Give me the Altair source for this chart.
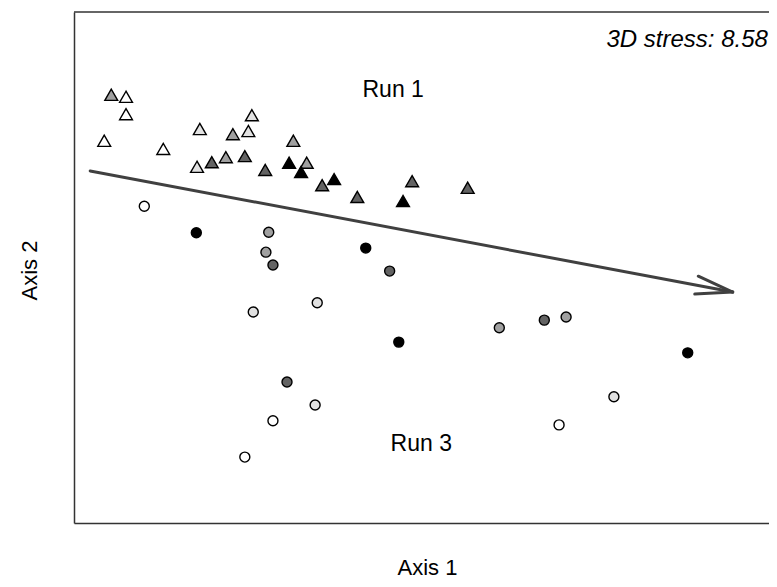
import altair as alt
import pandas as pd

# NMDS scores (arbitrary units)
tri_x = [5.3, 7.4, 7.4, 4.3, 12.7, 17.9, 25.3, 22.6, 24.8, 17.5, 19.6, 21.6,
         24.3, 27.2, 31.2, 30.6, 33.1, 32.3, 35.3, 37.0, 40.3, 46.8, 48.1, 56.0]
tri_y = [83.8, 83.4, 80.0, 74.8, 73.2, 77.1, 79.8, 76.1, 76.7, 69.7, 70.6, 71.6,
         71.8, 69.1, 74.8, 70.5, 70.5, 68.7, 66.1, 67.3, 63.8, 63.0, 66.9, 65.6]
tri_shade = ["mid", "white", "white", "white", "white", "light", "light", "mid",
             "light", "light", "dark", "mid", "dark", "dark", "mid", "black",
             "mid", "black", "dark", "black", "dark", "black", "dark", "dark"]

circ_x = [10.0, 17.4, 27.7, 27.3, 28.3, 25.5, 34.6, 41.5, 44.9, 46.2, 60.5, 66.9,
          70.0, 87.3, 76.8, 69.0, 30.3, 34.3, 28.3, 24.3]
circ_y = [62.0, 56.8, 56.9, 53.0, 50.5, 41.3, 43.1, 53.8, 49.3, 35.4, 38.2, 39.7,
          40.3, 33.3, 24.7, 19.2, 27.6, 23.1, 20.0, 12.9]
circ_shade = ["white", "black", "mid", "mid", "dark", "light", "light", "black",
              "dark", "black", "mid", "dark", "mid", "black", "light", "white",
              "dark", "light", "white", "white"]

# environmental vector (arrow) segments: shaft and two barbs
seg_x = [2.3, 88.3, 88.8]
seg_y = [68.9, 44.8, 48.3]
seg_x2 = [93.7, 93.7, 93.7]
seg_y2 = [45.2, 45.2, 45.2]

label_text = ["Run 1", "Run 3"]
label_x = [45.4, 49.4]
label_y = [84.7, 15.5]

stress_text = ["3D stress: 8.58"]
stress_x = [98.7]
stress_y = [94.5]

shade_domain = ["white", "light", "mid", "dark", "black"]
shade_range = ["#ffffff", "#e2e2e2", "#a0a0a0", "#636363", "#000000"]

W, H = 695, 511
XMAX = 100 * W / 703.0
xs = alt.Scale(domain=[0, XMAX], nice=False, zero=False)
ys = alt.Scale(domain=[0, 100], nice=False, zero=False)
fill_scale = alt.Scale(domain=shade_domain, range=shade_range)

xaxis = alt.Axis(labels=False, ticks=False, grid=False, title="Axis 1",
                 domainColor="#333333", domainWidth=1.5, titlePadding=34, titleX=353)
yaxis = alt.Axis(labels=False, ticks=False, grid=False, title="Axis 2",
                 domainColor="#333333", domainWidth=1.5, titlePadding=33, titleY=258)

tri = pd.DataFrame({"x": tri_x, "y": tri_y, "shade": tri_shade})
circ = pd.DataFrame({"x": circ_x, "y": circ_y, "shade": circ_shade})
segs = pd.DataFrame({"x": seg_x, "y": seg_y, "x2": seg_x2, "y2": seg_y2})
labels = pd.DataFrame({"x": label_x, "y": label_y, "t": label_text})
stress = pd.DataFrame({"x": stress_x, "y": stress_y, "t": stress_text})

top_line = alt.Chart(pd.DataFrame({"a": [0]})).mark_rule(
    color="#333333", strokeWidth=1.5
).encode(x=alt.value(0), x2=alt.value(W + 5), y=alt.value(0))

arrow = alt.Chart(segs).mark_rule(color="#404040", strokeWidth=3, strokeCap="round").encode(
    x=alt.X("x:Q", scale=xs, axis=xaxis),
    y=alt.Y("y:Q", scale=ys, axis=yaxis),
    x2="x2:Q", y2="y2:Q",
)

triangles = alt.Chart(tri).mark_point(
    shape="triangle-up", filled=True, size=165, stroke="#000000", strokeWidth=1.4, opacity=1
).encode(
    x=alt.X("x:Q", scale=xs, axis=xaxis),
    y=alt.Y("y:Q", scale=ys, axis=yaxis),
    fill=alt.Fill("shade:N", scale=fill_scale, legend=None),
)

circles = alt.Chart(circ).mark_point(
    shape="circle", filled=True, size=100, stroke="#000000", strokeWidth=1.4, opacity=1
).encode(
    x=alt.X("x:Q", scale=xs, axis=xaxis),
    y=alt.Y("y:Q", scale=ys, axis=yaxis),
    fill=alt.Fill("shade:N", scale=fill_scale, legend=None),
)

run_labels = alt.Chart(labels).mark_text(
    font="Liberation Sans", fontSize=23, color="#000000", align="center", baseline="middle"
).encode(x=alt.X("x:Q", scale=xs), y=alt.Y("y:Q", scale=ys), text="t:N")

stress_label = alt.Chart(stress).mark_text(
    font="Liberation Sans", fontSize=24, fontStyle="italic", color="#000000",
    align="right", baseline="middle"
).encode(x=alt.X("x:Q", scale=xs), y=alt.Y("y:Q", scale=ys), text="t:N")

chart = alt.layer(
    arrow, triangles, circles, run_labels, stress_label, top_line
).properties(
    width=W, height=H,
    autosize=alt.AutoSizeParams(type="none"),
    padding={"left": 66, "top": 4, "right": 0, "bottom": 56},
).configure_view(stroke=None).configure_axis(
    titleFont="Liberation Sans", titleFontSize=22, titleFontWeight="normal", titleColor="#000000"
)

chart.save("out.html", embed_options={"renderer": "svg", "actions": False})
